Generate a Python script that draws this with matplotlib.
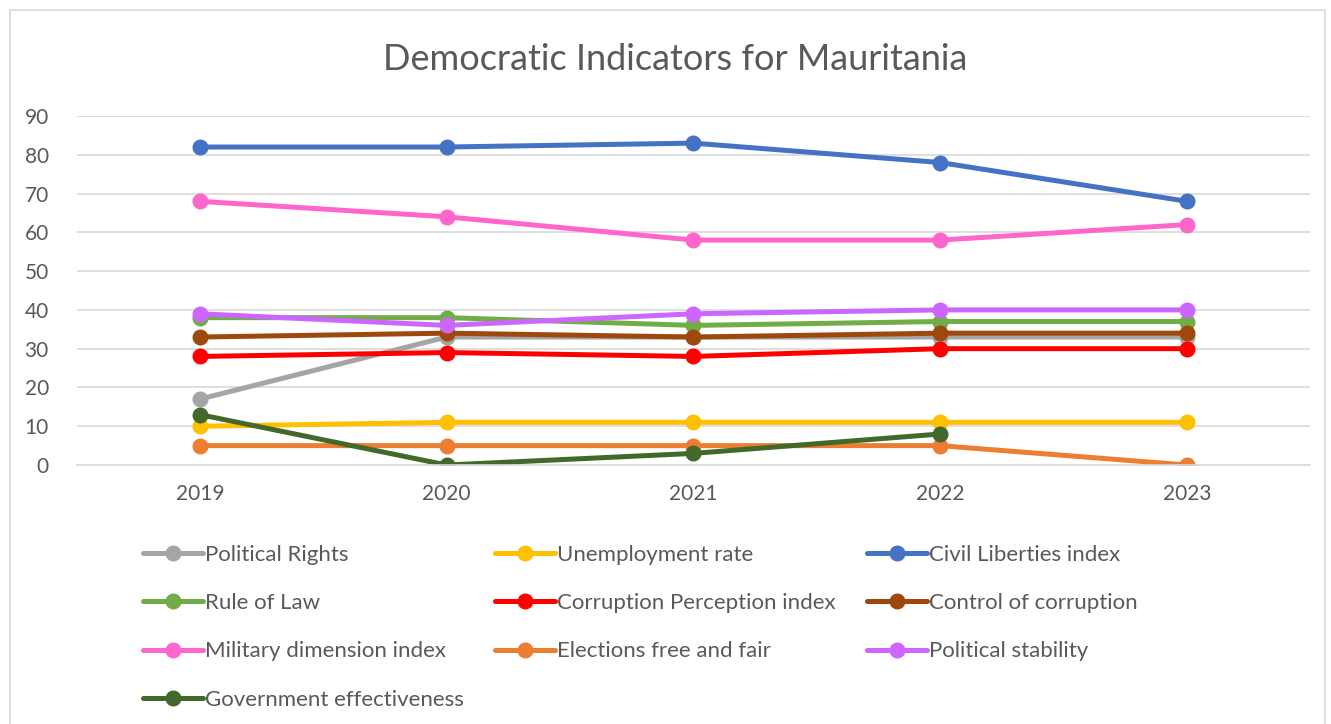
import matplotlib.pyplot as plt
from matplotlib.patches import Rectangle

plt.rcParams['font.family'] = ['Lato', 'DejaVu Sans']

# data
years = ['2019', '2020', '2021', '2022', '2023']
political_rights = [17, 33, 33, 33, 33]
unemployment = [10, 11, 11, 11, 11]
civil_liberties = [82, 82, 83, 78, 68]
rule_of_law = [38, 38, 36, 37, 37]
corruption_perception = [28, 29, 28, 30, 30]
control_corruption = [33, 34, 33, 34, 34]
military = [68, 64, 58, 58, 62]
elections = [5, 5, 5, 5, 0]
political_stability = [39, 36, 39, 40, 40]
gov_effectiveness = [13, 0, 3, 8, None]

series = [
    ('Political Rights', political_rights, '#A5A5A5'),
    ('Unemployment rate', unemployment, '#FFC000'),
    ('Civil Liberties index', civil_liberties, '#4472C4'),
    ('Rule of Law', rule_of_law, '#70AD47'),
    ('Corruption Perception index', corruption_perception, '#FF0000'),
    ('Control of corruption', control_corruption, '#9E480E'),
    ('Military dimension index', military, '#FF66CC'),
    ('Elections free and fair', elections, '#ED7D31'),
    ('Political stability', political_stability, '#CC66FF'),
    ('Government effectiveness', gov_effectiveness, '#43682B'),
]

fig = plt.figure(figsize=(13.31, 7.24), dpi=100)
fig.patches.append(Rectangle((10 / 1331, -0.05), 1315 / 1331, 1 - 10 / 724 + 0.05,
                             transform=fig.transFigure, fill=False,
                             edgecolor='#D9D9D9', linewidth=1.2))
ax = fig.add_axes([0.0575, 0.3577, 0.927, 0.4821])

x = list(range(len(years)))
handles = {}
for name, vals, col in series:
    xs = [i for i, v in zip(x, vals) if v is not None]
    ys = [v for v in vals if v is not None]
    h, = ax.plot(xs, ys, color=col, linewidth=3.6, marker='o', markersize=10.5,
                 solid_capstyle='round', label=name)
    handles[name] = h

ax.set_xlim(-0.5, len(years) - 0.5)
ax.set_ylim(0, 90)
ax.set_yticks(range(0, 91, 10))
ax.set_xticks(x)
ax.set_xticklabels(years)
ax.grid(axis='y', color='#D9D9D9', linewidth=1.2)
ax.set_axisbelow(True)
for s in ['top', 'right', 'left']:
    ax.spines[s].set_visible(False)
ax.spines['bottom'].set_color('#D9D9D9')
ax.spines['bottom'].set_linewidth(1.2)
ax.tick_params(axis='both', length=0, labelsize=15, labelcolor='#595959')
ax.tick_params(axis='x', pad=14)
ax.tick_params(axis='y', pad=20)

fig.text(675 / 1331, 1 - 59 / 724, 'Democratic Indicators for Mauritania', ha='center', va='center',
         fontsize=26, color='#595959')

order = ['Political Rights', 'Rule of Law', 'Military dimension index', 'Government effectiveness',
         'Unemployment rate', 'Corruption Perception index', 'Elections free and fair',
         'Civil Liberties index', 'Control of corruption', 'Political stability']
leg = fig.legend([handles[n] for n in order], order, ncol=3, loc='upper left',
                 bbox_to_anchor=(143 / 1331, 1 - 545 / 724), frameon=False,
                 fontsize=16, handlelength=2.7, handletextpad=0.1,
                 columnspacing=1.4, labelspacing=1.27, borderpad=0, borderaxespad=0)
for t in leg.get_texts():
    t.set_color('#595959')

fig.savefig('out.png', dpi=100)
